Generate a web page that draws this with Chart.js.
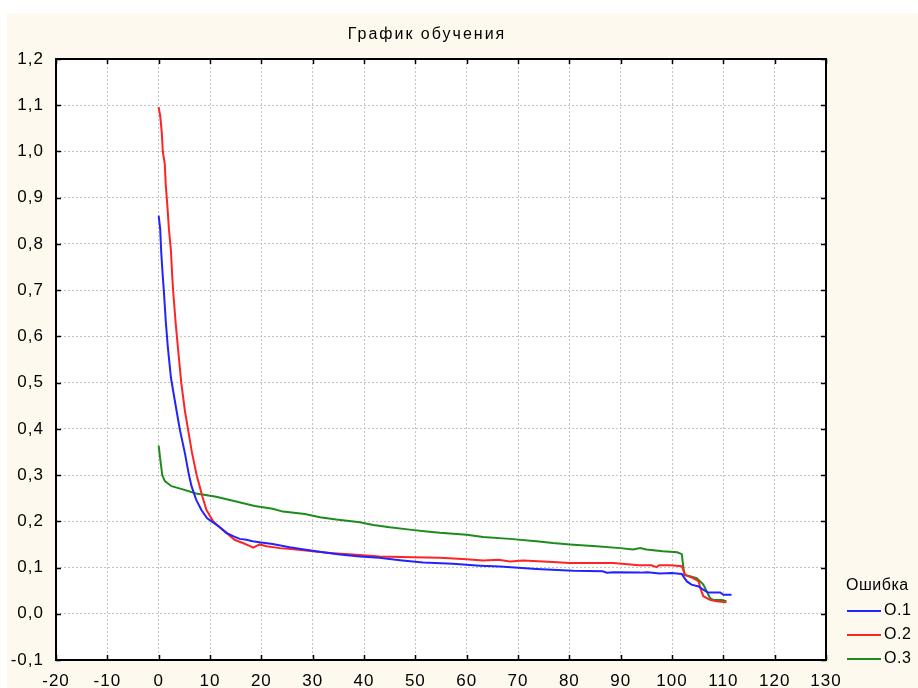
<!DOCTYPE html>
<html><head><meta charset="utf-8">
<script src="https://cdn.jsdelivr.net/npm/chart.js@4.4.1/dist/chart.umd.min.js"></script>
<style>
html,body{margin:0;padding:0;background:#fff;width:918px;height:688px;overflow:hidden}
#wrap{position:absolute;left:7px;top:13px;width:911px;height:675px}
canvas{display:block}
</style></head><body>
<div id="wrap"><canvas id="c" width="911" height="675"></canvas></div>
<script>
const chartTitle = 'График обучения';
const legendTitle = 'Ошибка';
const seriesNames = ['O.1', 'O.2', 'O.3'];
const seriesColors = ['#2323ff', '#ff2424', '#1c8c1c'];

const epochs1 = [0, 0.3, 0.5, 0.8, 1.0, 1.4, 1.8, 2.4, 3.1, 4.1, 5.1, 5.9, 6.4, 7.3, 8.3, 9.4, 10.3, 11.6, 13.2, 14.5, 15.8, 17.1, 18.3, 20.0, 22.2, 25.5, 29.0, 32.0, 35.3, 39.2, 43.0, 47.0, 51.5, 57.3, 62.6, 66.5, 73.6, 80.8, 86.5, 87.3, 88.6, 93.8, 95.2, 97.6, 99.9, 101.9, 102.2, 102.9, 103.8, 105.2, 106.1, 107.0, 109.4, 110.0, 111.6];
const error1 = [0.861, 0.832, 0.782, 0.730, 0.700, 0.630, 0.575, 0.510, 0.464, 0.400, 0.348, 0.300, 0.276, 0.247, 0.225, 0.207, 0.200, 0.190, 0.175, 0.168, 0.162, 0.160, 0.157, 0.154, 0.151, 0.144, 0.138, 0.133, 0.128, 0.124, 0.121, 0.116, 0.111, 0.108, 0.104, 0.102, 0.097, 0.093, 0.092, 0.089, 0.090, 0.089, 0.090, 0.087, 0.088, 0.086, 0.081, 0.070, 0.063, 0.059, 0.052, 0.046, 0.046, 0.041, 0.041];

const epochs2 = [0, 0.3, 0.6, 0.8, 1.2, 1.4, 1.7, 2.0, 2.4, 2.6, 2.8, 3.3, 3.8, 4.4, 5.1, 5.7, 6.5, 7.4, 8.5, 9.3, 10.6, 11.6, 13.2, 14.8, 16.4, 17.7, 18.4, 19.7, 21.0, 23.6, 26.8, 30.0, 34.0, 37.8, 43.0, 49.5, 54.8, 60.0, 63.2, 66.2, 68.4, 71.0, 76.8, 80.0, 88.6, 93.6, 96.0, 97.0, 97.5, 99.7, 101.9, 102.6, 104.1, 105.2, 105.5, 106.1, 107.4, 108.7, 110.6];
const error2 = [1.096, 1.077, 1.042, 1.000, 0.972, 0.924, 0.882, 0.832, 0.784, 0.739, 0.702, 0.630, 0.570, 0.500, 0.440, 0.400, 0.348, 0.300, 0.254, 0.225, 0.200, 0.190, 0.175, 0.160, 0.153, 0.147, 0.143, 0.150, 0.146, 0.142, 0.139, 0.135, 0.131, 0.128, 0.124, 0.122, 0.121, 0.118, 0.115, 0.117, 0.113, 0.115, 0.112, 0.110, 0.110, 0.105, 0.105, 0.101, 0.105, 0.105, 0.103, 0.084, 0.077, 0.070, 0.056, 0.038, 0.030, 0.027, 0.025];

const epochs3 = [0, 0.3, 0.7, 1.2, 2.5, 4.7, 7.3, 11.2, 15.1, 18.7, 22.2, 24.2, 28.5, 31.4, 34.6, 39.2, 41.8, 45.0, 48.9, 52.2, 54.8, 60.0, 63.2, 68.4, 73.6, 76.8, 80.1, 85.3, 89.9, 92.4, 93.8, 95.0, 98.2, 101.0, 101.9, 102.4, 103.5, 104.8, 105.5, 106.1, 106.8, 107.4, 108.0, 109.7, 110.6];
const error3 = [0.364, 0.335, 0.300, 0.287, 0.276, 0.269, 0.260, 0.253, 0.243, 0.233, 0.227, 0.221, 0.216, 0.209, 0.204, 0.198, 0.192, 0.187, 0.182, 0.178, 0.175, 0.171, 0.166, 0.162, 0.157, 0.153, 0.150, 0.146, 0.142, 0.139, 0.142, 0.139, 0.135, 0.133, 0.129, 0.084, 0.081, 0.077, 0.070, 0.063, 0.048, 0.034, 0.030, 0.030, 0.027];

const xMin = -20, xMax = 130, xStep = 10;
const yMin = -0.1, yMax = 1.2, yStep = 0.1;

const FONT = '"Liberation Sans", Arial, sans-serif';

function toPoints(xs, ys) { return xs.map((x, i) => ({ x: x, y: ys[i] })); }

const frame = {
  id: 'frame',
  beforeDraw(chart) {
    const ctx = chart.ctx, a = chart.chartArea;
    ctx.save();
    ctx.fillStyle = '#fdf9ee';
    ctx.fillRect(0, 0, chart.width, chart.height);
    ctx.fillStyle = '#ffffff';
    ctx.fillRect(a.left, a.top, a.right - a.left, a.bottom - a.top);
    ctx.restore();
    ctx.letterSpacing = '1px';
  },
  afterDraw(chart) {
    const ctx = chart.ctx, a = chart.chartArea;
    const xs = chart.scales.x, ys = chart.scales.y;
    ctx.save();
    ctx.letterSpacing = '0px';
    ctx.strokeStyle = '#000';
    ctx.lineWidth = 2;
    ctx.strokeRect(a.left, a.top, a.right - a.left, a.bottom - a.top);
    ctx.lineWidth = 1.5;
    ctx.beginPath();
    xs.ticks.forEach(t => {
      const p = Math.round(xs.getPixelForValue(t.value)) + 0.5;
      ctx.moveTo(p, a.bottom); ctx.lineTo(p, a.bottom - 5);
      ctx.moveTo(p, a.top); ctx.lineTo(p, a.top + 5);
    });
    ys.ticks.forEach(t => {
      const p = Math.round(ys.getPixelForValue(t.value)) + 0.5;
      ctx.moveTo(a.left, p); ctx.lineTo(a.left + 5, p);
      ctx.moveTo(a.right, p); ctx.lineTo(a.right - 5, p);
    });
    ctx.stroke();

    // title
    ctx.fillStyle = '#000';
    ctx.font = '16px ' + FONT;
    ctx.letterSpacing = '2px';
    ctx.textAlign = 'center';
    ctx.textBaseline = 'middle';
    ctx.fillText(chartTitle, 420, 22);

    // legend
    ctx.letterSpacing = '0.5px';
    ctx.textAlign = 'left';
    ctx.font = '16px ' + FONT;
    ctx.fillText(legendTitle, 839, 573);
    chart.data.datasets.forEach((ds, i) => {
      const yy = 598 + i * 24;
      ctx.strokeStyle = ds.borderColor;
      ctx.lineWidth = 2;
      ctx.beginPath();
      ctx.moveTo(840, yy); ctx.lineTo(874, yy);
      ctx.stroke();
      ctx.fillText(ds.label, 877, yy);
    });
    ctx.restore();
  }
};

new Chart(document.getElementById('c'), {
  type: 'line',
  data: {
    datasets: [
      { label: seriesNames[0], data: toPoints(epochs1, error1), borderColor: seriesColors[0] },
      { label: seriesNames[1], data: toPoints(epochs2, error2), borderColor: seriesColors[1] },
      { label: seriesNames[2], data: toPoints(epochs3, error3), borderColor: seriesColors[2] }
    ]
  },
  plugins: [frame],
  options: {
    responsive: false,
    animation: false,
    devicePixelRatio: 1,
    layout: { padding: { left: 0, right: 92, top: 46, bottom: 0 } },
    elements: {
      line: { borderWidth: 2, tension: 0, fill: false },
      point: { radius: 0, hoverRadius: 0 }
    },
    plugins: {
      legend: { display: false },
      title: { display: false },
      tooltip: { enabled: false }
    },
    scales: {
      x: {
        type: 'linear',
        min: xMin, max: xMax,
        afterFit(s) { s.height = 28; },
        ticks: {
          stepSize: xStep,
          color: '#000',
          padding: 11,
          maxRotation: 0,
          autoSkip: false,
          font: { family: FONT, size: 17 }
        },
        grid: { color: '#c4c4c4', drawTicks: false, lineWidth: 1 },
        border: { display: false, dash: [2, 2] }
      },
      y: {
        type: 'linear',
        min: yMin, max: yMax,
        afterFit(s) { s.width = 49; },
        ticks: {
          stepSize: yStep,
          color: '#000',
          padding: 12,
          autoSkip: false,
          font: { family: FONT, size: 17 },
          callback: v => Number(v).toFixed(1).replace('.', ',')
        },
        grid: { color: '#c4c4c4', drawTicks: false, lineWidth: 1 },
        border: { display: false, dash: [2, 2] }
      }
    }
  }
});
</script>
</body></html>
